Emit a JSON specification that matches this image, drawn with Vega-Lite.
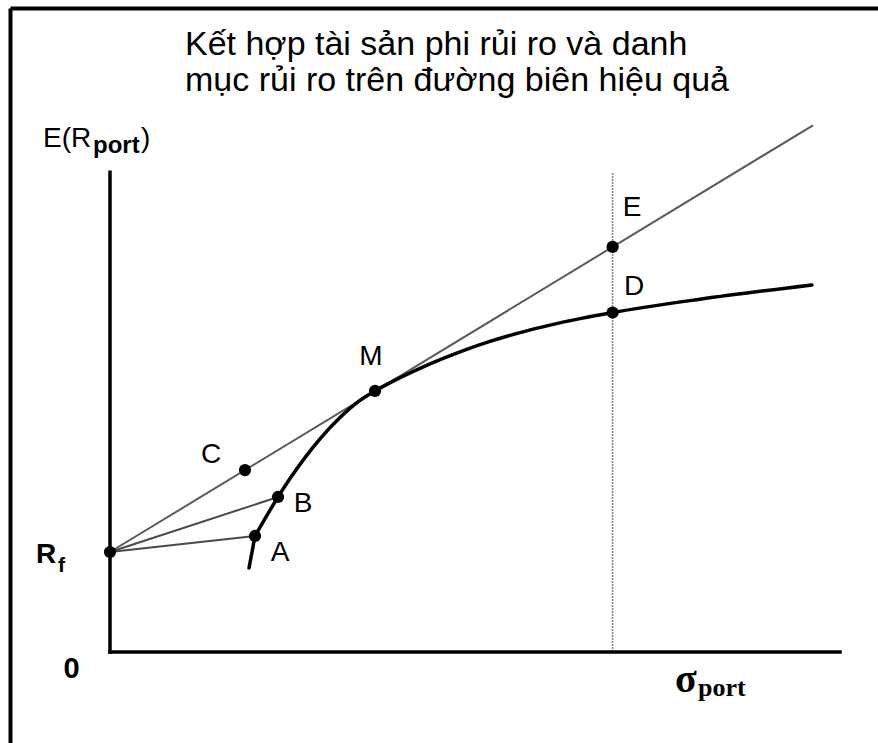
{
  "$schema": "https://vega.github.io/schema/vega-lite/v6.json",
  "width": 868,
  "height": 735,
  "autosize": {"type": "none"},
  "padding": {"left": 10, "top": 8, "right": 0, "bottom": 0},
  "background": "white",
  "config": {"view": {"stroke": null}},
  "datasets": {
    "segments": [
      {"seg": "axis", "s": 0, "r": 0, "s2": 100, "r2": 0},
      {"seg": "axis", "s": 0, "r": 0, "s2": 0, "r2": 100.6},
      {"seg": "ray", "s": 0, "r": 20.96, "s2": 19.863, "r2": 24.319},
      {"seg": "ray", "s": 0, "r": 20.96, "s2": 23.014, "r2": 32.495},
      {"seg": "cml", "s": 0, "r": 20.96, "s2": 96.3, "r2": 110.42},
      {"seg": "vert", "s": 68.85, "r": 0, "s2": 68.85, "r2": 100.4}
    ],
    "frontier": [
      {"piece": "stub", "s": 19.041, "r": 17.61},
      {"piece": "stub", "s": 19.863, "r": 24.319},
      {"piece": "main", "s": 19.863, "r": 24.319},
      {"piece": "main", "s": 23.014, "r": 32.495},
      {"piece": "main", "s": 24.658, "r": 36.373},
      {"piece": "main", "s": 26.712, "r": 40.755},
      {"piece": "main", "s": 28.767, "r": 44.675},
      {"piece": "main", "s": 31.507, "r": 49.14},
      {"piece": "main", "s": 34.247, "r": 52.746},
      {"piece": "main", "s": 36.301, "r": 54.717},
      {"piece": "main", "s": 39.726, "r": 57.495},
      {"piece": "main", "s": 43.836, "r": 60.419},
      {"piece": "main", "s": 47.945, "r": 62.935},
      {"piece": "main", "s": 52.055, "r": 65.105},
      {"piece": "main", "s": 56.164, "r": 66.96},
      {"piece": "main", "s": 60.274, "r": 68.532},
      {"piece": "main", "s": 64.384, "r": 69.885},
      {"piece": "main", "s": 68.85, "r": 71.17},
      {"piece": "main", "s": 80.822, "r": 73.962},
      {"piece": "main", "s": 96.164, "r": 76.96}
    ],
    "points": [
      {"name": "Rf", "s": 0, "r": 20.96},
      {"name": "A", "s": 19.863, "r": 24.319},
      {"name": "B", "s": 23.014, "r": 32.495},
      {"name": "C", "s": 18.49, "r": 38.14},
      {"name": "M", "s": 36.301, "r": 54.717},
      {"name": "E", "s": 68.85, "r": 84.92},
      {"name": "D", "s": 68.85, "r": 71.17}
    ],
    "letters": [
      {"text": "C", "s": 13.84, "r": 41.3},
      {"text": "B", "s": 26.44, "r": 31.03},
      {"text": "A", "s": 23.29, "r": 20.75},
      {"text": "M", "s": 35.75, "r": 61.84},
      {"text": "E", "s": 71.51, "r": 93.08},
      {"text": "D", "s": 71.78, "r": 76.52}
    ]
  },
  "encoding": {
    "x": {
      "field": "s",
      "type": "quantitative",
      "scale": {"domain": [-13.699, 105.205], "nice": false, "zero": false},
      "axis": {"orient": "top", "domain": true, "domainColor": "black", "domainWidth": 4, "ticks": false, "labels": false, "grid": false, "title": null}
    },
    "y": {
      "field": "r",
      "type": "quantitative",
      "scale": {"domain": [-19.078, 135.01], "nice": false, "zero": false},
      "axis": {"orient": "left", "domain": true, "domainColor": "black", "domainWidth": 4, "ticks": false, "labels": false, "grid": false, "title": null}
    }
  },
  "layer": [
    {
      "data": {"name": "segments"},
      "transform": [{"filter": "datum.seg === 'vert'"}],
      "mark": {"type": "rule", "color": "#8a8a8a", "strokeWidth": 1.6, "strokeDash": [2, 1]},
      "encoding": {"x2": {"field": "s2"}, "y2": {"field": "r2"}}
    },
    {
      "data": {"name": "segments"},
      "transform": [{"filter": "datum.seg === 'cml'"}],
      "mark": {"type": "rule", "color": "#5a5a5a", "strokeWidth": 2},
      "encoding": {"x2": {"field": "s2"}, "y2": {"field": "r2"}}
    },
    {
      "data": {"name": "segments"},
      "transform": [{"filter": "datum.seg === 'ray'"}],
      "mark": {"type": "rule", "color": "#4a4a4a", "strokeWidth": 2},
      "encoding": {"x2": {"field": "s2"}, "y2": {"field": "r2"}}
    },
    {
      "data": {"name": "segments"},
      "transform": [{"filter": "datum.seg === 'axis'"}],
      "mark": {"type": "rule", "color": "black", "strokeWidth": 3.5, "strokeCap": "square"},
      "encoding": {"x2": {"field": "s2"}, "y2": {"field": "r2"}}
    },
    {
      "data": {"name": "frontier"},
      "mark": {"type": "line", "color": "black", "strokeWidth": 3.5, "interpolate": "monotone", "strokeCap": "round"},
      "encoding": {"detail": {"field": "piece"}}
    },
    {
      "data": {"name": "points"},
      "mark": {"type": "circle", "color": "black", "opacity": 1, "size": 150},
      "encoding": {}
    },
    {
      "data": {"name": "letters"},
      "mark": {"type": "text", "font": "Liberation Sans", "fontSize": 28, "align": "center", "baseline": "middle", "color": "black"},
      "encoding": {"text": {"field": "text"}}
    },
    {
      "data": {"values": [{"text": "R", "s": -10.14, "r": 18.66}]},
      "mark": {"type": "text", "font": "Liberation Sans", "fontSize": 28, "fontWeight": "bold", "align": "left", "baseline": "alphabetic", "color": "black"},
      "encoding": {"text": {"field": "text"}}
    },
    {
      "data": {"values": [{"text": "f", "s": -7.12, "r": 16.77}]},
      "mark": {"type": "text", "font": "Liberation Sans", "fontSize": 21, "fontWeight": "bold", "align": "left", "baseline": "alphabetic", "color": "black"},
      "encoding": {"text": {"field": "text"}}
    },
    {
      "data": {"values": [{"text": "0", "s": -5.27, "r": -5.45}]},
      "mark": {"type": "text", "font": "Liberation Sans", "fontSize": 29, "fontWeight": "bold", "align": "center", "baseline": "alphabetic", "color": "black"},
      "encoding": {"text": {"field": "text"}}
    },
    {
      "data": {"values": [{"text": "E(R", "s": -9.18, "r": 105.87}, {"text": ")", "s": 4.25, "r": 105.87}]},
      "mark": {"type": "text", "font": "Liberation Sans", "fontSize": 28, "align": "left", "baseline": "alphabetic", "color": "black"},
      "encoding": {"text": {"field": "text"}}
    },
    {
      "data": {"values": [{"text": "port", "s": -2.33, "r": 104.6}]},
      "mark": {"type": "text", "font": "Liberation Sans", "fontSize": 24, "fontWeight": "bold", "align": "left", "baseline": "alphabetic", "color": "black"},
      "encoding": {"text": {"field": "text"}}
    },
    {
      "data": {"values": [{"text": "σ", "s": 78.9, "r": -8.39}]},
      "mark": {"type": "text", "font": "Liberation Serif", "fontSize": 40, "fontWeight": "bold", "align": "center", "baseline": "alphabetic", "color": "black"},
      "encoding": {"text": {"field": "text"}}
    },
    {
      "data": {"values": [{"text": "port", "s": 80.55, "r": -9.22}]},
      "mark": {"type": "text", "font": "Liberation Serif", "fontSize": 26, "fontWeight": "bold", "align": "left", "baseline": "alphabetic", "color": "black"},
      "encoding": {"text": {"field": "text"}}
    },
    {
      "data": {"values": [{"text": "Kết hợp tài sản phi rủi ro và danh", "s": 10.27, "r": 125.16}, {"text": "mục rủi ro trên đường biên hiệu quả", "s": 10.27, "r": 117.61}]},
      "mark": {"type": "text", "font": "Liberation Sans", "fontSize": 34, "align": "left", "baseline": "alphabetic", "color": "black"},
      "encoding": {"text": {"field": "text"}}
    }
  ]
}
